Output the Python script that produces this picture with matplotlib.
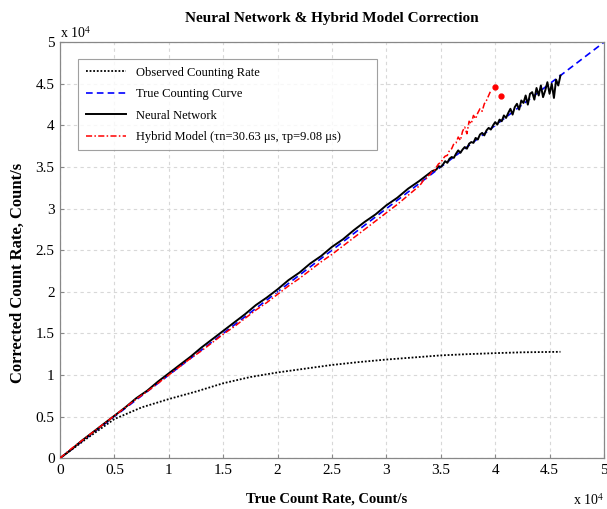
import matplotlib
matplotlib.use("Agg")
import matplotlib.pyplot as plt

# all rates in units of 1e4 counts/s
observed_x = [0.0, 0.25, 0.5, 0.75, 1.0, 1.25, 1.5, 1.75, 2.0, 2.25, 2.5, 2.75,
              3.0, 3.25, 3.5, 3.75, 4.0, 4.25, 4.6]
observed_y = [0.0, 0.24, 0.47, 0.61, 0.71, 0.80, 0.90, 0.975, 1.03, 1.075, 1.12, 1.155,
              1.185, 1.21, 1.235, 1.25, 1.262, 1.272, 1.278]

true_x = [0.0, 5.0]
true_y = [0.0, 5.0]

nn_x = [0.0, 0.1, 0.2, 0.3, 0.4, 0.5, 0.6, 0.7, 0.8, 0.9, 1.0, 1.1, 1.2, 1.3, 1.4,
        1.5, 1.6, 1.7, 1.8, 1.9, 2.0, 2.1, 2.2, 2.3, 2.4, 2.5, 2.6, 2.7, 2.8, 2.9,
        3.0, 3.1, 3.2, 3.3, 3.4,
        3.42, 3.44, 3.46, 3.48, 3.50, 3.52, 3.54, 3.56, 3.58, 3.60, 3.62, 3.64,
        3.66, 3.68, 3.70, 3.72, 3.74, 3.76, 3.78, 3.80, 3.82, 3.84, 3.86, 3.88,
        3.90, 3.92, 3.94, 3.96, 3.98, 4.00, 4.02, 4.04, 4.06, 4.08, 4.10, 4.12,
        4.14, 4.16, 4.18, 4.20, 4.22, 4.24, 4.26, 4.28, 4.30, 4.32, 4.34, 4.36,
        4.38, 4.40, 4.42, 4.44, 4.46, 4.48, 4.50, 4.52, 4.54, 4.56, 4.58, 4.60]
nn_y = [0.00, 0.10, 0.21, 0.31, 0.41, 0.51, 0.61, 0.72, 0.81, 0.92, 1.02, 1.12, 1.22,
        1.33, 1.43, 1.53, 1.63, 1.73, 1.84, 1.93, 2.03, 2.14, 2.23, 2.34, 2.43, 2.54,
        2.63, 2.74, 2.84, 2.93, 3.04, 3.13, 3.24, 3.33, 3.43,
        3.45, 3.46, 3.47, 3.51, 3.50, 3.53, 3.57, 3.55, 3.60, 3.62, 3.61, 3.66,
        3.70, 3.67, 3.71, 3.74, 3.72, 3.78, 3.80, 3.79, 3.85, 3.83, 3.89, 3.91,
        3.88, 3.94, 3.97, 3.95, 4.00, 4.04, 4.01, 4.07, 4.05, 4.12, 4.09, 4.15,
        4.20, 4.13, 4.22, 4.26, 4.19, 4.30, 4.27, 4.36, 4.25, 4.38, 4.40, 4.31,
        4.45, 4.36, 4.48, 4.34, 4.42, 4.52, 4.38, 4.50, 4.33, 4.55, 4.48, 4.60]

hybrid_x = [0.0, 0.1, 0.2, 0.3, 0.4, 0.5, 0.6, 0.7, 0.8, 0.9, 1.0, 1.1, 1.2, 1.3,
            1.4, 1.5, 1.6, 1.7, 1.8, 1.9, 2.0, 2.1, 2.2, 2.3, 2.4, 2.5, 2.6, 2.7,
            2.8, 2.9, 3.0, 3.1, 3.2, 3.3,
            3.32, 3.34, 3.36, 3.38, 3.40, 3.42, 3.44, 3.46, 3.48, 3.50, 3.52, 3.54,
            3.56, 3.58, 3.60, 3.62, 3.64, 3.66, 3.68, 3.70, 3.72, 3.74, 3.76, 3.78,
            3.80, 3.82, 3.84, 3.86, 3.88, 3.90, 3.92, 3.94, 3.96]
hybrid_y = [0.00, 0.11, 0.21, 0.31, 0.41, 0.51, 0.61, 0.71, 0.80, 0.90, 1.00, 1.10,
            1.20, 1.29, 1.39, 1.49, 1.58, 1.68, 1.78, 1.87, 1.97, 2.07, 2.16, 2.26,
            2.36, 2.45, 2.55, 2.65, 2.75, 2.85, 2.95, 3.05, 3.16, 3.27,
            3.30, 3.34, 3.35, 3.39, 3.41, 3.45, 3.46, 3.50, 3.54, 3.55, 3.60, 3.63,
            3.64, 3.70, 3.72, 3.78, 3.79, 3.86, 3.82, 3.93, 3.98, 3.90, 4.05, 4.02,
            4.12, 4.08, 4.15, 4.20, 4.17, 4.26, 4.30, 4.36, 4.42]
hybrid_tail_x = [4.00, 4.05]
hybrid_tail_y = [4.46, 4.35]

ticks = [0, 0.5, 1, 1.5, 2, 2.5, 3, 3.5, 4, 4.5, 5]
tick_labels = ["0", "0.5", "1", "1.5", "2", "2.5", "3", "3.5", "4", "4.5", "5"]

plt.rcParams["font.family"] = ["Liberation Serif", "DejaVu Serif"]
plt.rcParams["mathtext.fontset"] = "stix"

fig = plt.figure(figsize=(6.07, 5.09), dpi=100)
ax = fig.add_axes([0.099, 0.100, 0.896, 0.817])

ax.plot(observed_x, observed_y, color="black", linestyle=(0, (1, 1)), lw=1.3,
        label="Observed Counting Rate")
ax.plot(true_x, true_y, color="#0000ff", linestyle=(0, (4, 2.5)), lw=1.2,
        label="True Counting Curve", zorder=1)
ax.plot(nn_x, nn_y, color="black", lw=1.4, label="Neural Network", zorder=3)
ax.plot(hybrid_x, hybrid_y, color="red", linestyle=(0, (4, 1.5, 1, 1.5)), lw=1.1,
        label="Hybrid Model (\u03c4n=30.63 \u03bcs, \u03c4p=9.08 \u03bcs)", zorder=4)
ax.plot(hybrid_tail_x, hybrid_tail_y, "o", color="red", ms=3.5, zorder=4)

ax.set_xlim(0, 5)
ax.set_ylim(0, 5)
ax.set_xticks(ticks)
ax.set_xticklabels(tick_labels, fontsize=11)
ax.set_yticks(ticks)
ax.set_yticklabels(tick_labels, fontsize=11)
ax.tick_params(direction="in", length=3, color="#888888", pad=4)
ax.grid(True, linestyle=(0, (3, 3)), color="#d8d8d8", lw=0.8)
for sp in ax.spines.values():
    sp.set_color("#888888")
    sp.set_linewidth(0.9)

ax.set_title("Neural Network & Hybrid Model Correction", fontsize=11,
             fontweight="bold", y=1.028)
ax.set_xlabel("True Count Rate, Count/s", fontsize=10.5, fontweight="bold")
ax.xaxis.set_label_coords(0.49, -0.082)
ax.set_ylabel("Corrected Count Rate, Count/s", fontsize=12, fontweight="bold")
ax.yaxis.set_label_coords(-0.062, 0.445)

ax.text(0.0, 1.003, "x 10$^4$", transform=ax.transAxes, fontsize=10,
        ha="left", va="bottom")
ax.text(1.0, -0.112, "x 10$^4$", transform=ax.transAxes, fontsize=10,
        ha="right", va="baseline")

leg = ax.legend(loc="upper left", bbox_to_anchor=(0.033, 0.745, 0.55, 0.214),
                mode="expand", borderaxespad=0, fontsize=9, frameon=True,
                fancybox=False, handlelength=3.2, borderpad=0.6, labelspacing=0.75)
leg.get_frame().set_edgecolor("#888888")
leg.get_frame().set_linewidth(0.8)

fig.savefig("out.png", dpi=100)
